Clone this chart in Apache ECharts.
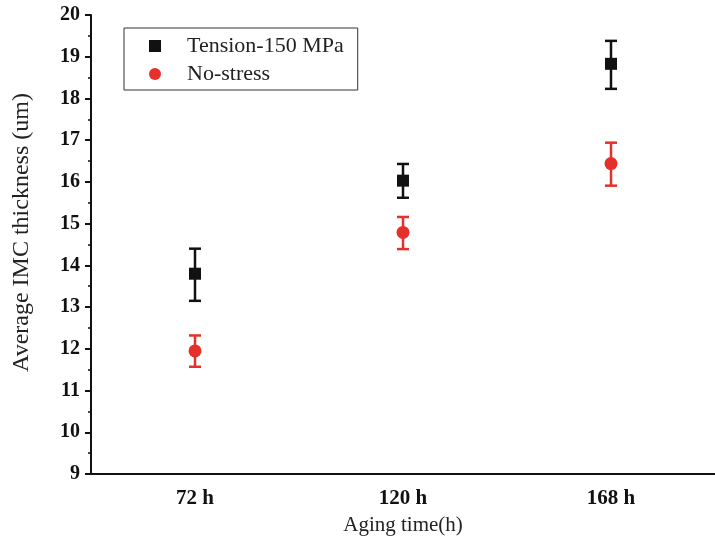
<!DOCTYPE html>
<html>
<head>
<meta charset="utf-8">
<script src="https://cdn.jsdelivr.net/npm/echarts@6/dist/echarts.min.js"></script>
<style>html,body{margin:0;padding:0;background:#fff}#c{width:715px;height:543px}</style>
</head>
<body>
<div id="c"></div>
<script>
var categories = ['72 h', '120 h', '168 h'];
var tensionMean = [13.80, 16.03, 18.83];
var tensionUpper = [14.40, 16.43, 19.38];
var tensionLower = [13.15, 15.62, 18.23];
var noStressMean = [11.95, 14.79, 16.44];
var noStressUpper = [12.32, 15.16, 16.94];
var noStressLower = [11.57, 14.39, 15.91];

var FONT = 'Liberation Serif';
var chart = echarts.init(document.getElementById('c'));

function errData(lo, hi) {
  return categories.map(function (c, i) { return [i, lo[i], hi[i]]; });
}
function errRender(color) {
  return function (params, api) {
    var x = api.value(0);
    var lo = api.coord([x, api.value(1)]);
    var hi = api.coord([x, api.value(2)]);
    var w = 6;
    var st = { stroke: color, lineWidth: 2.5 };
    return {
      type: 'group',
      children: [
        { type: 'line', shape: { x1: hi[0], y1: hi[1], x2: lo[0], y2: lo[1] }, style: st },
        { type: 'line', shape: { x1: hi[0] - w, y1: hi[1], x2: hi[0] + w, y2: hi[1] }, style: st },
        { type: 'line', shape: { x1: lo[0] - w, y1: lo[1], x2: lo[0] + w, y2: lo[1] }, style: st }
      ]
    };
  };
}

chart.setOption({
  animation: false,
  backgroundColor: '#fff',
  grid: { left: 91, right: 0, top: 15, bottom: 69, outerBoundsMode: 'none', containLabel: false },
  legend: {
    orient: 'vertical',
    left: 124, top: 28,
    borderColor: '#333', borderWidth: 1,
    padding: [7, 14, 5, 25],
    itemWidth: 12, itemHeight: 12, itemGap: 6,
    textStyle: { fontFamily: FONT, fontSize: 22, color: '#222', padding: [0, 0, 0, 21] },
    data: [{ name: 'Tension-150 MPa', icon: 'rect' }, { name: 'No-stress', icon: 'circle' }]
  },
  xAxis: {
    type: 'category',
    data: categories,
    boundaryGap: true,
    name: 'Aging time(h)',
    nameLocation: 'middle',
    nameGap: 41,
    nameTextStyle: { fontFamily: FONT, fontSize: 21, color: '#222' },
    axisLine: { lineStyle: { color: '#111', width: 2 } },
    axisTick: { alignWithLabel: true, length: 6, lineStyle: { color: '#111', width: 2 } },
    axisLabel: { fontFamily: FONT, fontSize: 21, fontWeight: 'bold', color: '#111', margin: 14 },
    splitLine: { show: false }
  },
  yAxis: {
    type: 'value',
    min: 9, max: 20, interval: 1,
    name: 'Average IMC thickness (um)',
    nameLocation: 'middle',
    nameGap: 57,
    nameRotate: 90,
    nameTextStyle: { fontFamily: FONT, fontSize: 24, color: '#222', padding: [0, 0, 0, 24] },
    axisLine: { show: true, lineStyle: { color: '#111', width: 2 } },
    axisTick: { show: true, length: 6, lineStyle: { color: '#111', width: 2 } },
    minorTick: { show: true, splitNumber: 2, length: 3, lineStyle: { color: '#111', width: 1.5 } },
    axisLabel: { fontFamily: FONT, fontSize: 20, fontWeight: 'bold', color: '#111', margin: 11 },
    splitLine: { show: false }
  },
  series: [
    { type: 'custom', name: 'errT', data: errData(tensionLower, tensionUpper), renderItem: errRender('#111'), z: 2 },
    { type: 'custom', name: 'errN', data: errData(noStressLower, noStressUpper), renderItem: errRender('#e5302b'), z: 2 },
    { type: 'scatter', name: 'Tension-150 MPa', data: tensionMean, symbol: 'rect', symbolSize: 12,
      itemStyle: { color: '#111', opacity: 1 }, z: 3 },
    { type: 'scatter', name: 'No-stress', data: noStressMean, symbol: 'circle', symbolSize: 13,
      itemStyle: { color: '#e5302b', opacity: 1 }, z: 3 }
  ]
});
</script>
</body>
</html>
